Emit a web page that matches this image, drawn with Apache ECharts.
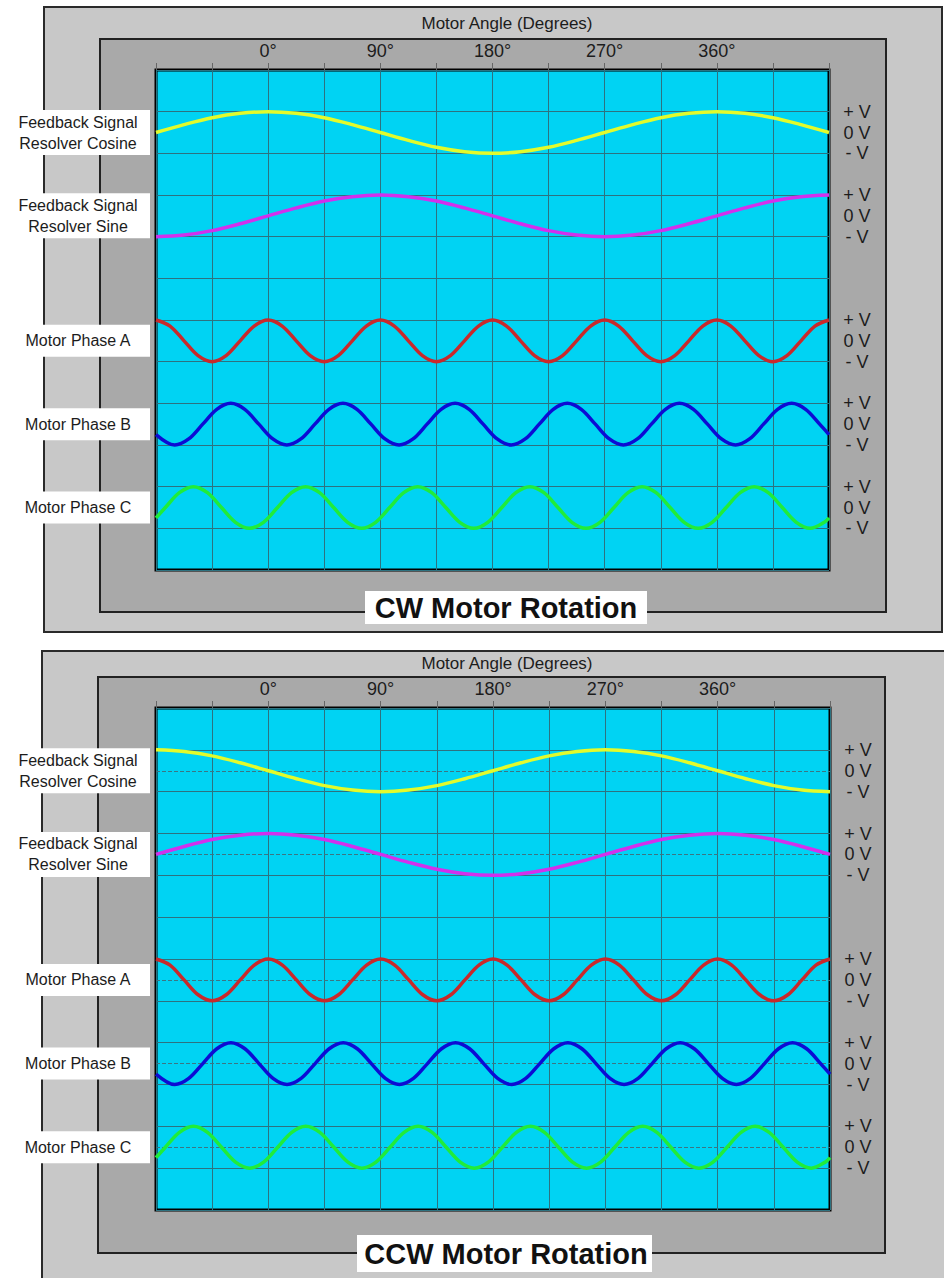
<!DOCTYPE html>
<html>
<head>
<meta charset="utf-8">
<script src="https://cdn.jsdelivr.net/npm/echarts@6/dist/echarts.min.js"></script>
<style>
html,body{margin:0;padding:0;background:#ffffff;}
#chart{width:944px;height:1278px;}
</style>
</head>
<body>
<div id="chart"></div>
<script>
// ---------------- DATA ----------------
const axisTitle = 'Motor Angle (Degrees)';
const panelTitles = ['CW Motor Rotation', 'CCW Motor Rotation'];
const angleMin = -90;
const angleMax = 450;
const angleStep = 45;
const angleTickValues = [0, 90, 180, 270, 360];
const signalLabels = [
  'Feedback Signal\nResolver Cosine',
  'Feedback Signal\nResolver Sine',
  'Motor Phase A',
  'Motor Phase B',
  'Motor Phase C'
];
const voltageLabels = { '1': '+ V', '0': '0 V', '-1': '- V' };

// sample angles (degrees) read along the x axis
const resolverAngles = [-90, -67.5, -45, -22.5, 0, 22.5, 45, 67.5, 90, 112.5, 135, 157.5, 180,
  202.5, 225, 247.5, 270, 292.5, 315, 337.5, 360, 382.5, 405, 427.5, 450];
const phaseAAngles = [-90, -78.75, -67.5, -56.25, -45, -33.75, -22.5, -11.25, 0, 11.25, 22.5, 33.75,
  45, 56.25, 67.5, 78.75, 90, 101.25, 112.5, 123.75, 135, 146.25, 157.5, 168.75,
  180, 191.25, 202.5, 213.75, 225, 236.25, 247.5, 258.75, 270, 281.25, 292.5, 303.75,
  315, 326.25, 337.5, 348.75, 360, 371.25, 382.5, 393.75, 405, 416.25, 427.5, 438.75, 450];
const phaseBAngles = [-90,
  -75, -63.75, -52.5, -41.25, -30, -18.75, -7.5, 3.75,
  15, 26.25, 37.5, 48.75, 60, 71.25, 82.5, 93.75,
  105, 116.25, 127.5, 138.75, 150, 161.25, 172.5, 183.75,
  195, 206.25, 217.5, 228.75, 240, 251.25, 262.5, 273.75,
  285, 296.25, 307.5, 318.75, 330, 341.25, 352.5, 363.75,
  375, 386.25, 397.5, 408.75, 420, 431.25, 442.5,
  450];
const phaseCAngles = [-90,
  -82.5, -71.25, -60, -48.75, -37.5, -26.25, -15, -3.75,
  7.5, 18.75, 30, 41.25, 52.5, 63.75, 75, 86.25,
  97.5, 108.75, 120, 131.25, 142.5, 153.75, 165, 176.25,
  187.5, 198.75, 210, 221.25, 232.5, 243.75, 255, 266.25,
  277.5, 288.75, 300, 311.25, 322.5, 333.75, 345, 356.25,
  367.5, 378.75, 390, 401.25, 412.5, 423.75, 435, 446.25,
  450];

// normalised signal levels (+1 = +V, 0 = 0 V, -1 = -V)
const cwCosine = [0, 0.38, 0.71, 0.92, 1, 0.92, 0.71, 0.38, 0, -0.38, -0.71, -0.92, -1,
  -0.92, -0.71, -0.38, 0, 0.38, 0.71, 0.92, 1, 0.92, 0.71, 0.38, 0];
const cwSine = [-1, -0.92, -0.71, -0.38, 0, 0.38, 0.71, 0.92, 1, 0.92, 0.71, 0.38, 0,
  -0.38, -0.71, -0.92, -1, -0.92, -0.71, -0.38, 0, 0.38, 0.71, 0.92, 1];
const ccwCosine = [1, 0.92, 0.71, 0.38, 0, -0.38, -0.71, -0.92, -1, -0.92, -0.71, -0.38, 0,
  0.38, 0.71, 0.92, 1, 0.92, 0.71, 0.38, 0, -0.38, -0.71, -0.92, -1];
const ccwSine = [0, 0.38, 0.71, 0.92, 1, 0.92, 0.71, 0.38, 0, -0.38, -0.71, -0.92, -1,
  -0.92, -0.71, -0.38, 0, 0.38, 0.71, 0.92, 1, 0.92, 0.71, 0.38, 0];
const phaseA = [1, 0.71, 0, -0.71, -1, -0.71, 0, 0.71,
  1, 0.71, 0, -0.71, -1, -0.71, 0, 0.71,
  1, 0.71, 0, -0.71, -1, -0.71, 0, 0.71,
  1, 0.71, 0, -0.71, -1, -0.71, 0, 0.71,
  1, 0.71, 0, -0.71, -1, -0.71, 0, 0.71,
  1, 0.71, 0, -0.71, -1, -0.71, 0, 0.71,
  1];
const phaseB = [-0.5,
  -1, -0.71, 0, 0.71, 1, 0.71, 0, -0.71,
  -1, -0.71, 0, 0.71, 1, 0.71, 0, -0.71,
  -1, -0.71, 0, 0.71, 1, 0.71, 0, -0.71,
  -1, -0.71, 0, 0.71, 1, 0.71, 0, -0.71,
  -1, -0.71, 0, 0.71, 1, 0.71, 0, -0.71,
  -1, -0.71, 0, 0.71, 1, 0.71, 0,
  -0.5];
const phaseC = [-0.5,
  0, 0.71, 1, 0.71, 0, -0.71, -1, -0.71,
  0, 0.71, 1, 0.71, 0, -0.71, -1, -0.71,
  0, 0.71, 1, 0.71, 0, -0.71, -1, -0.71,
  0, 0.71, 1, 0.71, 0, -0.71, -1, -0.71,
  0, 0.71, 1, 0.71, 0, -0.71, -1, -0.71,
  0, 0.71, 1, 0.71, 0, -0.71, -1, -0.71,
  -0.5];

const panelSignals = [
  [cwCosine, cwSine, phaseA, phaseB, phaseC],
  [ccwCosine, ccwSine, phaseA, phaseB, phaseC]
];
const signalAngles = [resolverAngles, resolverAngles, phaseAAngles, phaseBAngles, phaseCAngles];

// ---------------- LAYOUT / STYLE ----------------
const FONT = '"Liberation Sans", Arial, Helvetica, sans-serif';
const TEXT = '#1c1c1c';
const GRIDLINE = '#2d7280';
const signalColors = ['#e2fb2c', '#d230ec', '#c9292b', '#0c0cd4', '#20ec3a'];
const rowCount = 12;
const stripRows = [1, 3, 6, 8, 10];   // each strip spans one row of the 12-row screen
const labelBoxHeights = [45, 45, 32, 32, 32];
const panels = [
  { outer: [44, 7, 898, 625], inner: [100, 39, 786, 573],
    plot: { left: 156, top: 70, width: 673, height: 500 },
    axisTitleY: 23, titleBox: [365, 591, 282, 33], titleY: 608, dashed: false },
  { outer: [42, 651, 940, 660], inner: [98, 677, 787, 576],
    plot: { left: 156, top: 708, width: 674, height: 502 },
    axisTitleY: 663, titleBox: [357, 1235, 295, 37], titleY: 1254, dashed: true }
];

const grid = [], xAxis = [], yAxis = [], series = [], graphic = [];

panels.forEach((p, pi) => {
  const base = pi * 6;
  const rowH = p.plot.height / rowCount;
  // main plot (screen)
  grid.push({ left: p.plot.left, top: p.plot.top, width: p.plot.width, height: p.plot.height,
    show: true, backgroundColor: '#00d3f3', borderColor: '#000', borderWidth: 3,
    containLabel: false, outerBoundsMode: 'none' });
  xAxis.push({ gridIndex: base, type: 'value', position: 'top', min: angleMin, max: angleMax, interval: angleStep,
    axisLine: { show: false },
    axisTick: { show: true, length: 7, lineStyle: { color: '#666', width: 1 } },
    axisLabel: { margin: 10, fontSize: 18, color: TEXT, fontFamily: FONT,
      formatter: v => angleTickValues.includes(v) ? v + '°' : '' },
    splitLine: { show: true, lineStyle: { color: GRIDLINE, width: 1 } } });
  yAxis.push({ gridIndex: base, type: 'value', min: 0, max: rowCount, interval: 1, inverse: true,
    axisLine: { show: false }, axisTick: { show: false }, axisLabel: { show: false },
    splitLine: { show: true, lineStyle: { color: GRIDLINE, width: 1 } } });

  // strips
  stripRows.forEach((row, si) => {
    const gi = base + 1 + si;
    grid.push({ left: p.plot.left, top: p.plot.top + row * rowH, width: p.plot.width, height: rowH,
      show: false, containLabel: false, outerBoundsMode: 'none' });
    xAxis.push({ gridIndex: gi, type: 'value', min: angleMin, max: angleMax, show: false });
    yAxis.push({ gridIndex: gi, type: 'value', min: -1, max: 1, interval: 1, position: 'right',
      axisLine: { show: false }, axisTick: { show: false }, splitLine: { show: false },
      axisLabel: { margin: 28, align: 'center', fontSize: 18, color: TEXT, fontFamily: FONT,
        formatter: v => voltageLabels[String(v)] || '' } });
    const angles = signalAngles[si];
    const vals = panelSignals[pi][si];
    const s = {
      type: 'line', name: signalLabels[si], xAxisIndex: gi, yAxisIndex: gi,
      data: angles.map((a, i) => [a, vals[i]]),
      smooth: 0.33, showSymbol: false, symbol: 'none', clip: false, silent: true,
      lineStyle: { color: signalColors[si], width: 3.5 }, z: 5
    };
    if (p.dashed) {
      s.markLine = { silent: true, symbol: ['none', 'none'], label: { show: false },
        lineStyle: { type: 'dashed', color: '#3a7684', width: 1 }, data: [{ yAxis: 0 }], animation: false };
    }
    series.push(s);

    // left label box
    const cy = p.plot.top + (row + 0.5) * rowH;
    const bh = labelBoxHeights[si];
    graphic.push({ type: 'rect', z: 100, shape: { x: 0, y: cy - bh / 2, width: 150, height: bh },
      style: { fill: '#ffffff' } });
    graphic.push({ type: 'text', z: 101, x: 78, y: cy,
      style: { text: signalLabels[si], font: '16px ' + FONT, fill: TEXT,
        textAlign: 'center', textVerticalAlign: 'middle', lineHeight: 21 } });
  });

  // panel backgrounds
  graphic.push({ type: 'rect', z: -20, shape: { x: p.outer[0], y: p.outer[1], width: p.outer[2], height: p.outer[3] },
    style: { fill: '#c8c8c8', stroke: '#2a2a2a', lineWidth: 2 } });
  graphic.push({ type: 'rect', z: -19, shape: { x: p.inner[0], y: p.inner[1], width: p.inner[2], height: p.inner[3] },
    style: { fill: '#a9a9a9', stroke: '#222', lineWidth: 2 } });
  graphic.push({ type: 'text', z: 101, x: 507, y: p.axisTitleY,
    style: { text: axisTitle, font: '17px ' + FONT, fill: TEXT, textAlign: 'center', textVerticalAlign: 'middle' } });
  graphic.push({ type: 'rect', z: 100, shape: { x: p.titleBox[0], y: p.titleBox[1], width: p.titleBox[2], height: p.titleBox[3] },
    style: { fill: '#ffffff' } });
  graphic.push({ type: 'text', z: 101, x: 506, y: p.titleY,
    style: { text: panelTitles[pi], font: 'bold 29px ' + FONT, fill: '#111', textAlign: 'center', textVerticalAlign: 'middle' } });
});

const chart = echarts.init(document.getElementById('chart'), null, { renderer: 'svg', width: 944, height: 1278 });
chart.setOption({
  animation: false,
  backgroundColor: '#ffffff',
  grid, xAxis, yAxis, series,
  graphic: { elements: graphic }
});
</script>
</body>
</html>
